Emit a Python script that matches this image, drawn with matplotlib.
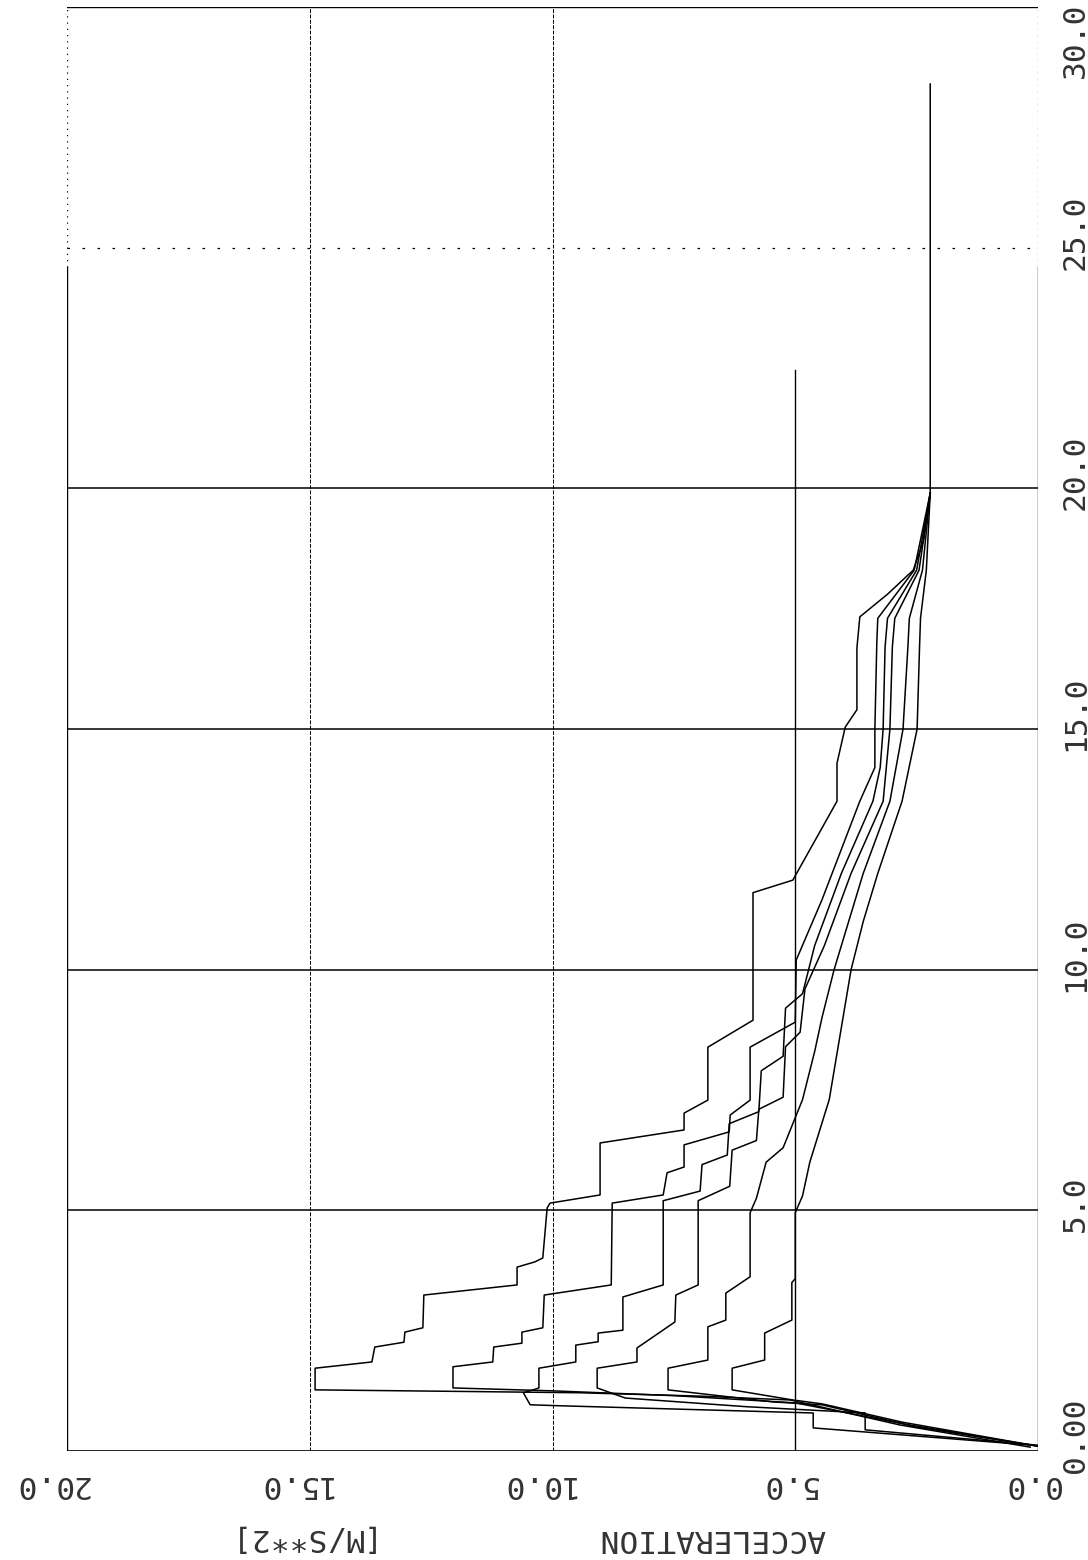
import numpy as np
import matplotlib
matplotlib.use("Agg")
import matplotlib.pyplot as plt
from matplotlib.transforms import ScaledTranslation

# ---- data: time [s] and acceleration [m/s^2] per curve ----
c1_t = [0.08, 0.54, 1.06, 1.14, 1.21, 1.24, 1.27, 1.72, 1.85, 2.16, 2.26, 2.47, 2.56, 3.24, 3.45, 3.82, 3.93, 4.01, 5.05, 5.15, 5.32, 6.40, 6.67, 7.02, 7.29, 8.39, 8.95, 11.6, 11.86, 13.5, 14.29, 15.04, 15.4, 16.68, 17.33, 17.8, 18.3, 18.9, 19.9, 28.4]
c1_a = [0.16, 2.84, 5.1, 6.96, 9.43, 12.1, 14.89, 14.89, 13.72, 13.66, 13.06, 13.04, 12.67, 12.65, 10.73, 10.73, 10.36, 10.20, 10.11, 10.05, 9.02, 9.02, 7.29, 7.29, 6.80, 6.80, 5.87, 5.87, 5.05, 4.14, 4.14, 3.97, 3.73, 3.73, 3.67, 3.1, 2.57, 2.36, 2.22, 2.22]

c2_t = [0.1, 0.55, 1.0, 1.15, 1.25, 1.31, 1.75, 1.85, 2.16, 2.24, 2.47, 2.56, 3.24, 3.45, 5.15, 5.32, 5.78, 5.90, 6.36, 6.63, 6.98, 7.29, 8.39, 8.91, 10.2, 11.45, 13.5, 14.2, 15.0, 16.8, 17.3, 18.3, 19.9]
c2_a = [0.0, 2.7, 5.0, 7.5, 10.0, 12.05, 12.05, 11.23, 11.21, 10.63, 10.63, 10.2, 10.17, 8.79, 8.77, 7.72, 7.64, 7.29, 7.29, 6.36, 6.34, 5.93, 5.93, 5.0, 4.98, 4.45, 3.67, 3.36, 3.36, 3.32, 3.3, 2.55, 2.22]

c3_t = [0.12, 0.48, 0.79, 0.94, 0.96, 1.21, 1.27, 1.31, 1.72, 1.85, 2.20, 2.27, 2.45, 2.51, 3.20, 3.45, 5.2, 5.4, 5.95, 6.15, 6.8, 7.05, 7.9, 8.2, 9.2, 9.5, 10.5, 12.0, 13.5, 14.2, 15.0, 16.7, 17.3, 18.3, 19.9]
c3_a = [0.1, 4.63, 4.63, 9.85, 10.46, 10.6, 10.4, 10.28, 10.28, 9.52, 9.52, 9.06, 9.06, 8.55, 8.55, 7.72, 7.72, 6.96, 6.92, 6.40, 6.36, 5.75, 5.70, 5.25, 5.2, 4.85, 4.6, 4.05, 3.40, 3.25, 3.19, 3.15, 3.1, 2.5, 2.22]

c4_t = [0.12, 0.44, 0.79, 0.92, 1.1, 1.31, 1.72, 1.85, 2.14, 2.68, 3.24, 3.45, 5.2, 5.5, 6.25, 6.45, 7.1, 7.35, 8.4, 8.7, 9.6, 10.5, 12.0, 13.5, 15.0, 16.7, 17.3, 18.3, 19.9]
c4_a = [0.0, 3.56, 3.56, 6.0, 8.5, 9.08, 9.08, 8.26, 8.26, 7.48, 7.46, 7.0, 7.0, 6.35, 6.3, 5.8, 5.75, 5.25, 5.2, 4.9, 4.8, 4.4, 3.85, 3.19, 3.05, 3.0, 2.95, 2.45, 2.22]

c5_t = [0.1, 0.5, 0.96, 1.02, 1.27, 1.72, 1.89, 2.58, 2.72, 3.28, 3.62, 4.95, 5.25, 6.0, 6.3, 7.3, 8.3, 9.0, 10.0, 12.0, 13.5, 15.0, 16.7, 17.3, 18.3, 19.9]
c5_a = [0.0, 2.5, 4.45, 5.46, 7.62, 7.62, 6.80, 6.80, 6.43, 6.43, 5.93, 5.93, 5.8, 5.6, 5.25, 4.85, 4.6, 4.45, 4.2, 3.6, 3.05, 2.78, 2.68, 2.65, 2.38, 2.22]

c6_t = [0.1, 0.6, 0.98, 1.06, 1.27, 1.72, 1.89, 2.45, 2.72, 3.5, 3.58, 4.95, 5.3, 6.0, 7.3, 8.5, 10.0, 11.0, 12.0, 13.5, 15.0, 16.7, 17.3, 18.3, 19.9]
c6_a = [0.0, 2.8, 4.45, 5.05, 6.30, 6.30, 5.63, 5.63, 5.07, 5.07, 5.0, 5.0, 4.85, 4.7, 4.3, 4.1, 3.85, 3.6, 3.3, 2.8, 2.49, 2.44, 2.42, 2.3, 2.22]

curves_t = [c1_t, c2_t, c3_t, c4_t, c5_t, c6_t]
curves_a = [c1_a, c2_a, c3_a, c4_a, c5_a, c6_a]

accel_ticks = [0.0, 5.0, 10.0, 15.0, 20.0]
accel_labels = ["0.0", "5.0", "10.0", "15.0", "20.0"]
time_ticks = [0.0, 5.0, 10.0, 15.0, 20.0, 25.0]
time_labels = ["0.00", "5.0", "10.0", "15.0", "20.0", "25.0"]
top_label = "30.0"

W, H = 1088, 1560
fig = plt.figure(figsize=(W / 100, H / 100), dpi=100)
ax = fig.add_axes([67 / W, 1 - 1451 / H, (1038 - 67) / W, (1451 - 7) / H])
ax.set_xlim(20, 0)
ax.set_ylim(0, 30)
for s in ax.spines.values():
    s.set_visible(False)
ax.set_xticks([])
ax.set_yticks([])

k = 'black'
# frame
ax.plot([20, 0], [0, 0], color=k, lw=1.2)
ax.plot([20, 0], [30, 30], color=k, lw=1.0)
for xv in (20, 0):
    ax.plot([xv, xv], [0, 24.6], color=k, lw=1.0)
    ax.plot([xv, xv], [24.6, 30], color=k, lw=0.9, ls=(0, (1, 4)))
# grid
for tv in (5, 10, 15, 20):
    ax.plot([20, 0], [tv, tv], color=k, lw=1.1)
ax.plot([20, 0], [25, 25], color=k, lw=0.9, ls=(0, (2, 10)))
ax.plot([5, 5], [0, 22.45], color=k, lw=1.0)
for av in (10, 15):
    ax.plot([av, av], [0, 30], color=k, lw=0.7, ls=(0, (4, 1.5)))

# data
for ts, av in zip(curves_t, curves_a):
    ax.plot(av, ts, color=k, lw=1.1)

font = dict(family='DejaVu Sans Mono', size=22.5, color='#333333')
# acceleration labels (upside-down)
for v, lab in zip(accel_ticks, accel_labels):
    ax.text(v, 0, lab, rotation=180, ha='right', va='top', clip_on=False,
            transform=ax.get_xaxis_transform() + ScaledTranslation(0.22, -0.19, fig.dpi_scale_trans), **font)
# time labels (rotated)
for v, lab in zip(time_ticks, time_labels):
    ax.text(1.0, v, lab, rotation=90, ha='left', va='bottom', clip_on=False,
            transform=ax.get_yaxis_transform() + ScaledTranslation(0.23, -0.22, fig.dpi_scale_trans), **font)
fig.text(1061 / W, 1 - 2 / H, top_label, rotation=90, ha='left', va='top', **font)

fig.text(712 / W, 1 - 1538 / H, "ACCELERATION", rotation=180, ha='center', va='center', **font)
fig.text(293 / W, 1 - 1538 / H, "[M/S**2]", rotation=180, ha='center', va='center', **font)

fig.savefig("out.png", dpi=100, facecolor='white')
